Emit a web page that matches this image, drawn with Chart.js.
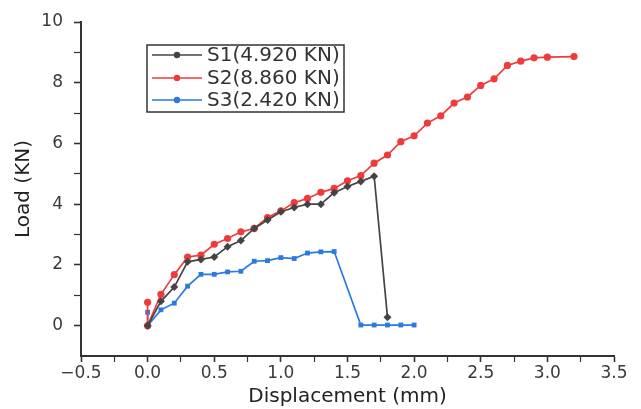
<!DOCTYPE html>
<html>
<head>
<meta charset="utf-8">
<script src="https://cdn.jsdelivr.net/npm/chart.js@4"></script>
<style>
  html, body { margin: 0; padding: 0; background: #ffffff; }
  #wrap { width: 641px; height: 409px; position: relative; }
</style>
</head>
<body>
<div id="wrap"><canvas id="c"></canvas></div>
<script>
// ---- data ----
const seriesNames = ['S1(4.920 KN)', 'S2(8.860 KN)', 'S3(2.420 KN)'];

const s1X = [0, 0.1, 0.2, 0.3, 0.4, 0.5, 0.6, 0.7, 0.8, 0.9, 1.0, 1.1, 1.2, 1.3, 1.4, 1.5, 1.6, 1.7, 1.8];
const s1Y = [0, 0.80, 1.27, 2.10, 2.18, 2.26, 2.60, 2.80, 3.20, 3.48, 3.75, 3.89, 4.00, 4.00, 4.38, 4.58, 4.75, 4.92, 0.28];

const s2X = [0, 0, 0.1, 0.2, 0.3, 0.4, 0.5, 0.6, 0.7, 0.8, 0.9, 1.0, 1.1, 1.2, 1.3, 1.4, 1.5, 1.6, 1.7, 1.8, 1.9, 2.0,
             2.1, 2.2, 2.3, 2.4, 2.5, 2.6, 2.7, 2.8, 2.9, 3.0, 3.2];
const s2Y = [0.77, 0, 1.03, 1.68, 2.26, 2.32, 2.68, 2.87, 3.09, 3.20, 3.56, 3.78, 4.05, 4.19, 4.39, 4.52, 4.77, 4.94, 5.35, 5.62, 6.06, 6.25,
             6.67, 6.91, 7.33, 7.53, 7.91, 8.13, 8.57, 8.71, 8.82, 8.84, 8.86];

const s3X = [0, 0, 0.1, 0.2, 0.3, 0.4, 0.5, 0.6, 0.7, 0.8, 0.9, 1.0, 1.1, 1.2, 1.3, 1.4, 1.6, 1.7, 1.8, 1.9, 2.0];
const s3Y = [0.44, 0, 0.52, 0.74, 1.30, 1.69, 1.69, 1.77, 1.79, 2.12, 2.14, 2.24, 2.21, 2.39, 2.43, 2.44, 0.02, 0.02, 0.02, 0.02, 0.02];

const xTickMin = -0.5, xTickMax = 3.5, xMajorStep = 0.5, xMinorStep = 0.25;
const yTickMin = -1, yTickMax = 10, yMajorStep = 2, yMinorStep = 1;

const xTitle = 'Displacement (mm)';
const yTitle = 'Load (KN)';

// ---- styling ----
const colors = ['#444444', '#f03b3b', '#2a7ae0'];
const pointStyles = ['rectRot', 'circle', 'rect'];
const pointRadii = [4, 3.6, 3.4];

function pts(xs, ys) { return xs.map((x, i) => ({ x: x, y: ys[i] })); }

const datasets = [pts(s1X, s1Y), pts(s2X, s2Y), pts(s3X, s3Y)].map((d, i) => ({
  label: seriesNames[i],
  data: d,
  borderColor: colors[i],
  backgroundColor: colors[i],
  borderWidth: 1.7,
  pointStyle: pointStyles[i],
  pointRadius: pointRadii[i],
  pointHoverRadius: pointRadii[i],
  pointBorderWidth: 0,
  tension: 0,
  showLine: true
}));

function isMultiple(v, step) {
  const r = v / step;
  return Math.abs(r - Math.round(r)) < 1e-6;
}

const FONT = "'DejaVu Sans', 'Liberation Sans', sans-serif";

const boxLegend = {
  id: 'boxLegend',
  afterDatasetsDraw(chart) {
    const ctx = chart.ctx;
    const left = 147, top = 45, w = 197, h = 67;
    ctx.save();
    ctx.strokeStyle = '#333333';
    ctx.lineWidth = 1.5;
    ctx.fillStyle = '#ffffff';
    ctx.fillRect(left, top, w, h);
    ctx.strokeRect(left, top, w, h);
    const rows = [55, 78, 100];
    chart.data.datasets.forEach((ds, i) => {
      const y = rows[i];
      ctx.strokeStyle = ds.borderColor;
      ctx.lineWidth = 1.5;
      ctx.beginPath();
      ctx.moveTo(152, y);
      ctx.lineTo(202, y);
      ctx.stroke();
      ctx.fillStyle = ds.borderColor;
      ctx.beginPath();
      ctx.arc(177, y, 3.2, 0, Math.PI * 2);
      ctx.fill();
      ctx.fillStyle = '#333333';
      ctx.font = "20px " + FONT;
      ctx.textAlign = 'left';
      ctx.textBaseline = 'middle';
      ctx.fillText(ds.label, 207, y + 1);
    });
    ctx.restore();
  }
};

new Chart(document.getElementById('c'), {
  type: 'scatter',
  data: { datasets: datasets },
  options: {
    responsive: true,
    maintainAspectRatio: false,
    animation: false,
    layout: { padding: { left: 0, right: 27, top: 22, bottom: 0 } },
    plugins: {
      legend: { display: false },
      tooltip: { enabled: false }
    },
    scales: {
      x: {
        type: 'linear',
        min: xTickMin,
        max: xTickMax,
        afterFit(scale) { scale.height = 53; },
        border: { display: true, color: '#333333', width: 2 },
        grid: {
          drawOnChartArea: false,
          drawTicks: true,
          tickLength: 6,
          tickColor: '#333333',
          tickWidth: (c) => (c.tick && isMultiple(c.tick.value, xMajorStep)) ? 1.6 : 1.2
        },
        ticks: {
          stepSize: xMinorStep,
          autoSkip: false,
          maxRotation: 0,
          padding: 1,
          color: '#3a3a3a',
          font: { family: FONT, size: 17 },
          callback: (v) => isMultiple(v, xMajorStep) ? v.toFixed(1).replace('-', '\u2212') : ''
        },
        title: {
          display: true,
          text: xTitle,
          color: '#222222',
          font: { family: FONT, size: 20 },
          padding: { top: 0, bottom: 0 }
        }
      },
      y: {
        type: 'linear',
        min: yTickMin,
        max: yTickMax,
        afterFit(scale) { scale.width = 81; },
        border: { display: true, color: '#333333', width: 2 },
        grid: {
          drawOnChartArea: false,
          drawTicks: true,
          tickLength: 7,
          tickColor: (c) => (c.tick && c.tick.value === yTickMin) ? 'rgba(0,0,0,0)' : '#333333',
          tickWidth: (c) => (c.tick && isMultiple(c.tick.value, yMajorStep)) ? 1.6 : 1.2
        },
        ticks: {
          stepSize: yMinorStep,
          autoSkip: false,
          padding: 11,
          color: '#3a3a3a',
          font: { family: FONT, size: 17 },
          callback: (v) => (v >= 0 && isMultiple(v, yMajorStep)) ? String(v) : ''
        },
        title: {
          display: true,
          text: yTitle,
          color: '#222222',
          font: { family: FONT, size: 20 },
          padding: { top: 12, bottom: 0 }
        }
      }
    }
  },
  plugins: [boxLegend]
});
</script>
</body>
</html>
